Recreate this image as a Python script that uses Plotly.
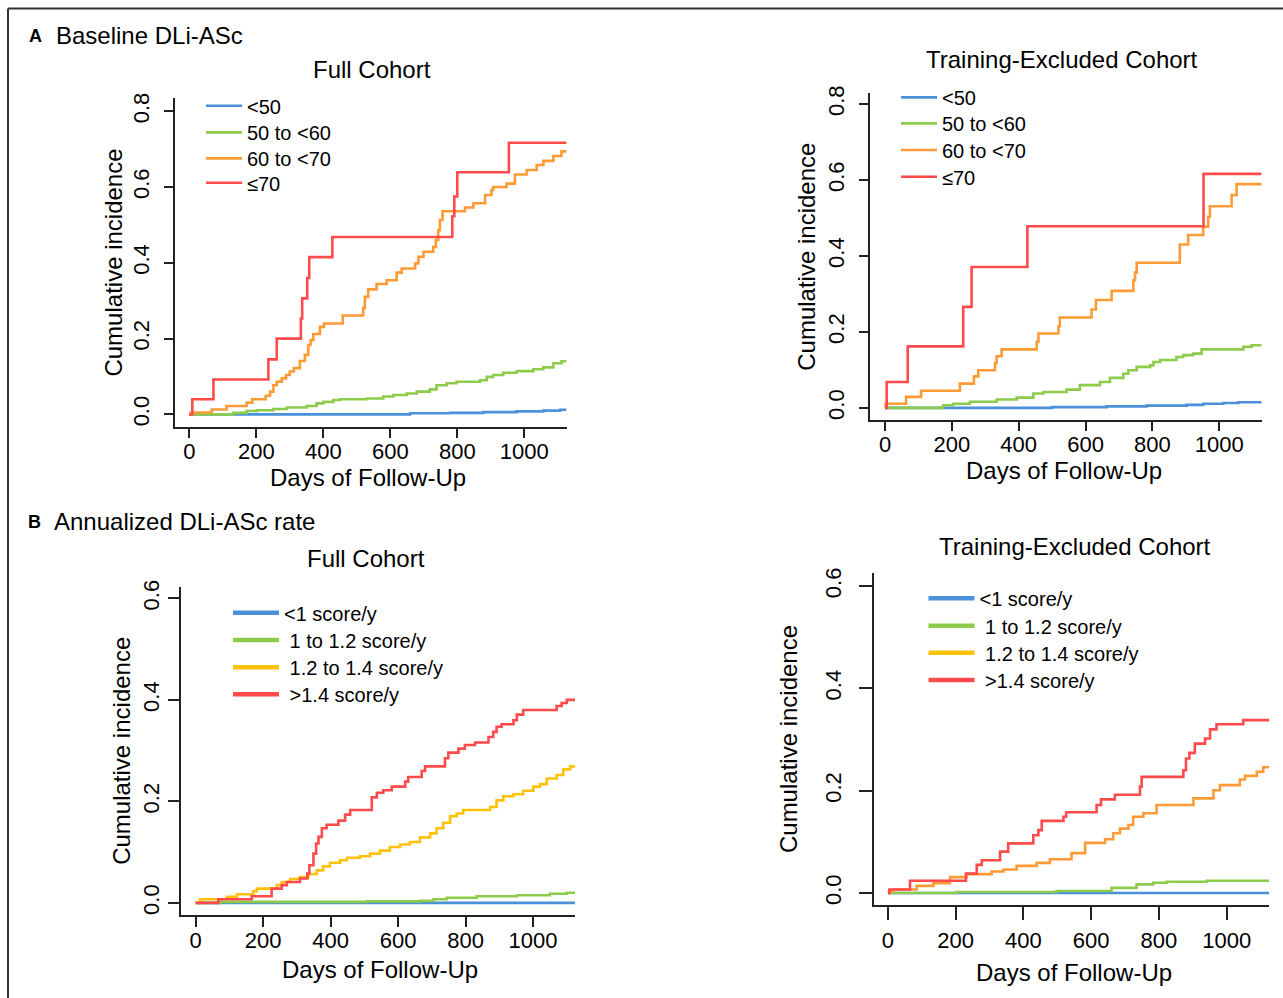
import plotly.graph_objects as go

W, H = 1283, 998
FONT = "Liberation Sans, Arial, Helvetica, sans-serif"

# ---------------- data (days, cumulative incidence) ----------------
# Panel A1: Baseline DLi-ASc, Full Cohort
a1_lt50_t = [0, 659, 778, 878, 977, 1057, 1107, 1126]
a1_lt50_v = [0, 0.003, 0.004, 0.006, 0.008, 0.010, 0.012, 0.012]
a1_50_60_t = [0, 131, 171, 201, 251, 291, 350, 380, 400, 430, 450, 529, 579, 609, 649, 679, 718, 738, 768, 798, 868, 888, 907, 937, 977, 1027, 1057, 1087, 1111, 1126]
a1_50_60_v = [0, 0.004, 0.009, 0.011, 0.014, 0.018, 0.022, 0.029, 0.033, 0.038, 0.040, 0.042, 0.047, 0.051, 0.055, 0.060, 0.066, 0.077, 0.082, 0.086, 0.090, 0.099, 0.104, 0.110, 0.114, 0.119, 0.124, 0.135, 0.140, 0.140]
a1_60_70_t = [0, 5, 67, 111, 171, 188, 228, 241, 251, 261, 276, 289, 300, 312, 330, 345, 355, 362, 370, 390, 402, 458, 519, 524, 534, 559, 589, 619, 634, 674, 684, 699, 728, 736, 743, 748, 756, 823, 848, 883, 902, 907, 947, 972, 1007, 1037, 1057, 1087, 1111, 1126]
a1_60_70_v = [0, 0.005, 0.013, 0.022, 0.031, 0.040, 0.049, 0.060, 0.077, 0.086, 0.095, 0.104, 0.113, 0.122, 0.141, 0.157, 0.183, 0.196, 0.212, 0.231, 0.240, 0.261, 0.281, 0.310, 0.330, 0.344, 0.354, 0.374, 0.385, 0.398, 0.416, 0.429, 0.442, 0.460, 0.486, 0.513, 0.536, 0.546, 0.557, 0.579, 0.592, 0.600, 0.609, 0.633, 0.645, 0.658, 0.669, 0.682, 0.694, 0.694]
a1_ge70_t = [0, 9, 72, 236, 261, 333, 337, 352, 358, 427, 785, 791, 800, 954, 1126]
a1_ge70_v = [0, 0.040, 0.092, 0.145, 0.200, 0.253, 0.306, 0.360, 0.415, 0.468, 0.523, 0.575, 0.639, 0.717, 0.717]

# Panel A2: Baseline DLi-ASc, Training-Excluded Cohort
a2_lt50_t = [0, 499, 663, 783, 902, 952, 1012, 1057, 1127]
a2_lt50_v = [0, 0.002, 0.004, 0.006, 0.008, 0.011, 0.013, 0.015, 0.015]
a2_50_60_t = [0, 174, 204, 254, 334, 394, 444, 474, 543, 583, 643, 673, 713, 728, 753, 793, 803, 823, 872, 892, 922, 947, 1072, 1097, 1127]
a2_50_60_v = [0, 0.007, 0.011, 0.016, 0.022, 0.027, 0.038, 0.042, 0.048, 0.060, 0.068, 0.079, 0.090, 0.099, 0.108, 0.112, 0.121, 0.126, 0.134, 0.139, 0.143, 0.154, 0.161, 0.165, 0.165]
a2_60_70_t = [0, 2, 63, 108, 224, 266, 279, 329, 334, 349, 454, 459, 519, 523, 618, 631, 678, 743, 748, 753, 882, 907, 952, 967, 972, 1037, 1052, 1127]
a2_60_70_v = [0, 0.011, 0.029, 0.045, 0.064, 0.083, 0.099, 0.118, 0.136, 0.154, 0.174, 0.196, 0.215, 0.238, 0.259, 0.284, 0.308, 0.336, 0.356, 0.382, 0.430, 0.455, 0.477, 0.503, 0.531, 0.560, 0.589, 0.589]
a2_ge70_t = [0, 5, 68, 234, 259, 426, 953, 1127]
a2_ge70_v = [0, 0.068, 0.162, 0.266, 0.371, 0.478, 0.616, 0.616]

# Panel B1: Annualized DLi-ASc rate, Full Cohort
b1_lt1_t = [0, 1125]
b1_lt1_v = [0, 0]
b1_1_12_t = [0, 72, 507, 665, 705, 744, 833, 952, 1050, 1100, 1125]
b1_1_12_v = [0, 0.002, 0.003, 0.004, 0.007, 0.010, 0.013, 0.015, 0.018, 0.020, 0.020]
b1_12_14_t = [0, 13, 92, 122, 171, 181, 240, 255, 280, 309, 334, 359, 378, 398, 428, 448, 487, 517, 546, 576, 606, 635, 665, 695, 714, 734, 754, 774, 793, 873, 892, 912, 942, 971, 1001, 1021, 1041, 1070, 1090, 1110, 1125]
b1_12_14_v = [0, 0.007, 0.012, 0.017, 0.023, 0.028, 0.035, 0.041, 0.047, 0.051, 0.057, 0.064, 0.072, 0.079, 0.084, 0.089, 0.092, 0.097, 0.103, 0.110, 0.115, 0.120, 0.129, 0.137, 0.147, 0.158, 0.171, 0.176, 0.183, 0.189, 0.202, 0.210, 0.214, 0.221, 0.229, 0.234, 0.245, 0.252, 0.263, 0.269, 0.271]
b1_gt14_t = [0, 67, 166, 225, 255, 270, 309, 331, 337, 349, 357, 364, 374, 388, 423, 443, 458, 522, 537, 556, 581, 621, 630, 670, 680, 739, 749, 779, 798, 828, 868, 882, 892, 907, 942, 952, 971, 1070, 1085, 1100, 1125]
b1_gt14_v = [0, 0.007, 0.013, 0.028, 0.035, 0.041, 0.048, 0.058, 0.074, 0.097, 0.117, 0.130, 0.147, 0.154, 0.162, 0.174, 0.183, 0.208, 0.217, 0.222, 0.229, 0.239, 0.248, 0.260, 0.269, 0.285, 0.296, 0.304, 0.311, 0.316, 0.327, 0.337, 0.347, 0.352, 0.360, 0.371, 0.380, 0.388, 0.394, 0.400, 0.400]

# Panel B2: Annualized DLi-ASc rate, Training-Excluded Cohort
b2_lt1_t = [0, 1125]
b2_lt1_v = [0, 0]
b2_1_12_t = [0, 203, 498, 660, 734, 783, 823, 941, 1125]
b2_1_12_v = [0, 0.002, 0.004, 0.010, 0.017, 0.020, 0.022, 0.024, 0.024]
b2_12_14_t = [0, 3, 16, 85, 134, 183, 232, 306, 341, 380, 439, 478, 542, 582, 641, 665, 685, 710, 724, 754, 793, 902, 961, 980, 1039, 1054, 1089, 1108, 1125]
b2_12_14_v = [0, 0.004, 0.007, 0.014, 0.019, 0.031, 0.037, 0.042, 0.046, 0.053, 0.059, 0.066, 0.078, 0.098, 0.105, 0.117, 0.126, 0.133, 0.149, 0.156, 0.172, 0.185, 0.201, 0.211, 0.222, 0.229, 0.237, 0.246, 0.246]
b2_gt14_t = [0, 4, 65, 230, 262, 277, 331, 355, 429, 444, 454, 518, 526, 616, 629, 670, 744, 749, 872, 880, 890, 906, 936, 951, 970, 1049, 1125]
b2_gt14_v = [0, 0.007, 0.024, 0.038, 0.055, 0.064, 0.081, 0.097, 0.113, 0.123, 0.141, 0.149, 0.158, 0.172, 0.183, 0.192, 0.208, 0.227, 0.240, 0.263, 0.274, 0.292, 0.302, 0.320, 0.330, 0.338, 0.338]

labels_a = ["<50", "50 to <60", "60 to <70", "\u226470"]
labels_b = ["<1 score/y", "\u00a01 to 1.2 score/y", "\u00a01.2 to 1.4 score/y", "\u00a0>1.4 score/y"]
x_ticks = [0, 200, 400, 600, 800, 1000]
y_ticks_a = [0, 0.2, 0.4, 0.6, 0.8]
y_ticks_b = [0, 0.2, 0.4, 0.6]

BLUE = "#4A90DA"
GREEN = "#8DCB4A"
ORANGE = "#FF9B35"
RED = "#FF4B4B"
YELLOW = "#FFC20A"

# ---------------- layout helpers ----------------
OFF, SC = 7.94, 0.992   # compensation for the page's vertical placement


def px(X):
    return X / W


def py(Y):
    return 1 - ((Y - OFF) / SC) / H


fig = go.Figure()

panels = [
    dict(ax="", series=[(a1_lt50_t, a1_lt50_v), (a1_50_60_t, a1_50_60_v), (a1_60_70_t, a1_60_70_v), (a1_ge70_t, a1_ge70_v)],
         colors=[BLUE, GREEN, ORANGE, RED], lcolors=[BLUE, GREEN, ORANGE, RED], labels=labels_a, lw=2.6,
         leg_left=201, leg_iw=36, leg_lines=[105.7, 132.3, 158.3, 182.7]),
    dict(ax="2", series=[(a2_lt50_t, a2_lt50_v), (a2_50_60_t, a2_50_60_v), (a2_60_70_t, a2_60_70_v), (a2_ge70_t, a2_ge70_v)],
         colors=[BLUE, GREEN, ORANGE, RED], lcolors=[BLUE, GREEN, ORANGE, RED], labels=labels_a, lw=2.6,
         leg_left=896, leg_iw=36, leg_lines=[97.3, 123.3, 150.0, 176.7]),
    dict(ax="3", series=[(b1_lt1_t, b1_lt1_v), (b1_1_12_t, b1_1_12_v), (b1_12_14_t, b1_12_14_v), (b1_gt14_t, b1_gt14_v)],
         colors=[BLUE, GREEN, YELLOW, RED], lcolors=[BLUE, GREEN, YELLOW, RED], labels=labels_b, lw=4.5,
         leg_left=228, leg_iw=46, leg_lines=[612.7, 640.0, 667.3, 694.3]),
    dict(ax="4", series=[(b2_lt1_t, b2_lt1_v), (b2_1_12_t, b2_1_12_v), (b2_12_14_t, b2_12_14_v), (b2_gt14_t, b2_gt14_v)],
         colors=[BLUE, GREEN, ORANGE, RED], lcolors=[BLUE, GREEN, YELLOW, RED], labels=labels_b, lw=4.5,
         leg_left=923.5, leg_iw=46, leg_lines=[598.3, 625.7, 652.7, 680.0]),
]

legend_layouts = {}
leg_idx = 0
for p in panels:
    xa = "x" + p["ax"]
    ya = "y" + p["ax"]
    for (t, v), c in zip(p["series"], p["colors"]):
        fig.add_trace(go.Scatter(x=t, y=v, mode="lines", line=dict(color=c, width=2.6, shape="hv"),
                                 showlegend=False, hoverinfo="skip", xaxis=xa, yaxis=ya))
    for k, (lab, lc) in enumerate(zip(p["labels"], p["lcolors"])):
        leg_idx += 1
        lname = "legend" if leg_idx == 1 else f"legend{leg_idx}"
        fig.add_trace(go.Scatter(x=[None], y=[None], mode="lines", line=dict(color=lc, width=p["lw"]),
                                 name=lab, legend=lname, showlegend=True, xaxis=xa, yaxis=ya))
        legend_layouts[lname] = dict(
            x=px(p["leg_left"]), y=py(p["leg_lines"][k] - 19.5), xanchor="left", yanchor="top",
            bgcolor="rgba(0,0,0,0)", borderwidth=0, itemwidth=p["leg_iw"],
            font=dict(family=FONT, size=20, color="black"), itemclick=False, itemdoubleclick=False)

AX = "#222222"


def xaxis(domain, rng, anchor, tlen=9, stand=-5):
    return dict(domain=domain, range=rng, anchor=anchor, showline=True, linecolor=AX, linewidth=2,
                ticks="outside", ticklen=tlen, tickwidth=1.6, tickcolor=AX, tickvals=x_ticks,
                ticklabelstandoff=stand,
                showgrid=False, zeroline=False, tickfont=dict(family=FONT, size=22, color="black"),
                fixedrange=True)


def yaxis(domain, rng, anchor, tv, tlen=9, stand=6):
    return dict(domain=domain, range=rng, anchor=anchor, showline=True, linecolor=AX, linewidth=2,
                ticks="outside", ticklen=tlen, tickwidth=1.6, tickcolor=AX, tickvals=tv,
                tickformat=".1f", tickangle=-90, ticklabelstandoff=stand,
                showgrid=False, zeroline=False, tickfont=dict(family=FONT, size=22, color="black"),
                fixedrange=True)


layout = dict(
    width=W, height=H, autosize=False,
    margin=dict(l=0, r=0, t=0, b=0),
    paper_bgcolor="white", plot_bgcolor="white",
    font=dict(family=FONT, color="black"),
    xaxis=xaxis([px(175), px(566.7)], [-42.7, 1126.6], "y"),
    yaxis=yaxis([py(426.7), py(98.3)], [-0.0327, 0.834], "x", y_ticks_a),
    xaxis2=xaxis([px(870), px(1261.7)], [-44.9, 1127], "y2"),
    yaxis2=yaxis([py(420), py(93.3)], [-0.032, 0.828], "x2", y_ticks_a),
    xaxis3=xaxis([px(181), px(575)], [-43.6, 1124.5], "y3", tlen=10),
    yaxis3=yaxis([py(915), py(586.7)], [-0.024, 0.623], "x3", y_ticks_b, tlen=11, stand=0),
    xaxis4=xaxis([px(874.3), px(1269)], [-40.4, 1125], "y4", tlen=13, stand=2),
    yaxis4=yaxis([py(905), py(573.3)], [-0.0235, 0.625], "x4", y_ticks_b, tlen=13, stand=10),
)
layout.update(legend_layouts)
fig.update_layout(**layout)


def ann(text, X, Y, size=24, xanchor="center", angle=0, bold=False):
    fig.add_annotation(text=f"<b>{text}</b>" if bold else text, x=px(X), y=py(Y), xref="paper", yref="paper",
                       xanchor=xanchor, yanchor="middle", showarrow=False, textangle=angle,
                       font=dict(family=FONT, size=size, color="black"))


# section headers
ann("A", 27, 36, size=18, xanchor="left", bold=True)
ann("Baseline DLi-ASc", 54, 35.5, xanchor="left")
ann("B", 26, 521.5, size=18, xanchor="left", bold=True)
ann("Annualized DLi-ASc rate", 52, 521, xanchor="left")

# panel titles
ann("Full Cohort", 371.5, 69)
ann("Training-Excluded Cohort", 1062, 59.5)
ann("Full Cohort", 366, 558)
ann("Training-Excluded Cohort", 1075, 546)

# axis titles
ann("Days of Follow-Up", 367.5, 477.5)
ann("Days of Follow-Up", 1064, 470)
ann("Days of Follow-Up", 380, 969)
ann("Days of Follow-Up", 1074, 972)
ann("Cumulative incidence", 114, 262.5, angle=-90)
ann("Cumulative incidence", 807, 256.7, angle=-90)
ann("Cumulative incidence", 122, 750.8, angle=-90)
ann("Cumulative incidence", 788, 739, angle=-90)

# outer frame (left and top edges)
fig.add_shape(type="line", xref="paper", yref="paper", x0=px(8), x1=px(8), y0=0, y1=py(8.5),
              line=dict(color="#333333", width=2))
fig.add_shape(type="line", xref="paper", yref="paper", x0=px(8), x1=1, y0=py(8.5), y1=py(8.5),
              line=dict(color="#333333", width=2))

css_fix = ("var s=document.createElement('style');"
           "s.innerHTML='html,body{margin:0 !important;padding:0 !important;overflow:hidden;}';"
           "document.head.appendChild(s);document.body.style.margin='0';")
fig.write_html("out.html", config={"displayModeBar": False}, post_script=css_fix)
